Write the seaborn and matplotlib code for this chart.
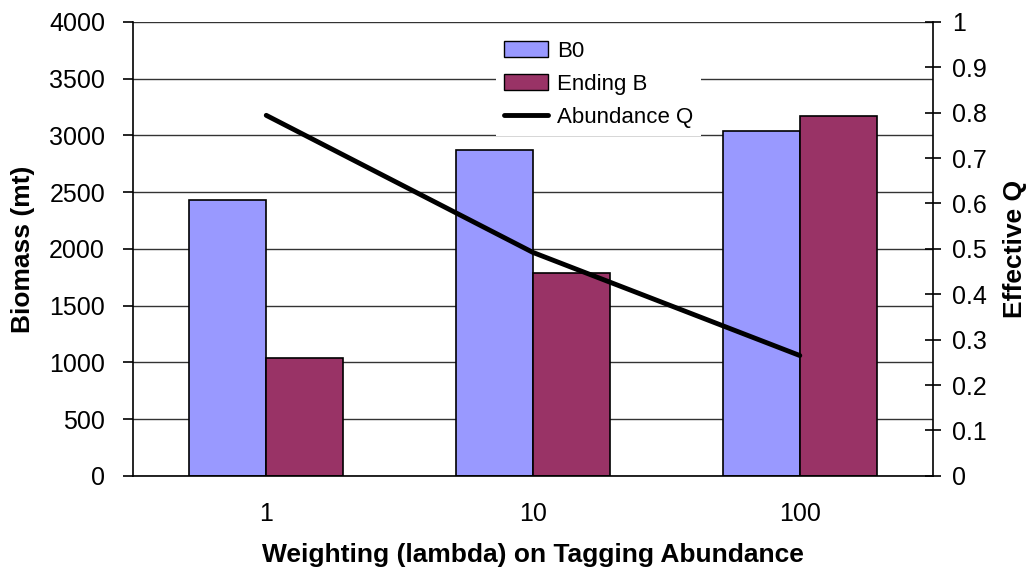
import matplotlib
matplotlib.use("Agg")
import matplotlib.pyplot as plt
import seaborn as sns
import pandas as pd
import numpy as np
from matplotlib.patches import Patch
from matplotlib.lines import Line2D

#Data
weights = ['1', '10', '100']
b0 = [2430, 2870, 3040]
ending_b = [1040, 1790, 3170]
abundance_q = [0.794, 0.492, 0.265]

df = pd.DataFrame({
    "Weight": weights * 2,
    "Biomass": b0 + ending_b,
    "Series": ["B0"] * 3 + ["Ending B"] * 3
})

sns.set_style("white")
plt.rcParams['font.family'] = ['Liberation Sans', 'DejaVu Sans']
plt.rcParams['text.color'] = 'black'
plt.rcParams['axes.labelcolor'] = 'black'
plt.rcParams['xtick.color'] = 'black'
plt.rcParams['ytick.color'] = 'black'

fig = plt.figure(figsize=(10.3, 5.74), dpi=100)
ax = fig.add_axes([0.129, 0.171, 0.777, 0.791])

colors = {"B0": "#9999FF", "Ending B": "#993366"}
sns.barplot(data=df, x="Weight", y="Biomass", hue="Series", palette=colors,
            width=0.577, gap=0, edgecolor="black", linewidth=1.2, ax=ax,
            legend=False, saturation=1)

ax.set_xlim(-0.5, 2.5)
ax.set_ylim(0, 4000)
ax.set_yticks(np.arange(0, 4001, 500))
ax.yaxis.grid(True, color="0.2", linewidth=1)
ax.set_axisbelow(True)
for s in ["top", "right"]:
    ax.spines[s].set_visible(False)
for s in ["left", "bottom"]:
    ax.spines[s].set_color("black")
    ax.spines[s].set_linewidth(1.2)

ax.set_xticks([0, 1, 2])
ax.set_xticklabels(weights)
ax.set_xticks([-0.5, 0.5, 1.5, 2.5], minor=True)
ax.tick_params(axis="x", which="major", length=0, pad=19, labelsize=18)
ax.tick_params(axis="x", which="minor", length=7, width=1.2, color="black", direction="out")
ax.tick_params(axis="y", length=7, width=1.2, color="black", direction="out", pad=13, labelsize=18, left=True)

ax.set_xlabel("Weighting (lambda) on Tagging Abundance", fontsize=19, fontweight="bold", labelpad=12)
ax.set_ylabel("Biomass (mt)", fontsize=19, fontweight="bold", labelpad=10)

ax2 = ax.twinx()
sns.lineplot(x=np.arange(len(weights)), y=abundance_q, color="black", linewidth=3.5, ax=ax2)
ax2.set_ylim(0, 1)
ax2.set_yticks(np.arange(0, 1.01, 0.1))
ax2.set_yticklabels(["0", "0.1", "0.2", "0.3", "0.4", "0.5", "0.6", "0.7", "0.8", "0.9", "1"])
ax2.tick_params(axis="y", length=11, width=1.2, color="black", direction="inout", pad=8, labelsize=18, right=True)
for s in ["top", "left", "bottom"]:
    ax2.spines[s].set_visible(False)
ax2.spines["right"].set_color("black")
ax2.spines["right"].set_linewidth(1.2)
ax2.set_ylabel("Effective Q", fontsize=19, fontweight="bold", labelpad=12)

handles = [Patch(facecolor=colors["B0"], edgecolor="black", label="B0"),
           Patch(facecolor=colors["Ending B"], edgecolor="black", label="Ending B"),
           Line2D([], [], color="black", linewidth=3.5, label="Abundance Q")]
leg = ax2.legend(handles=handles, loc="upper left", bbox_to_anchor=(0.44, 1.0),
                 fontsize=16, frameon=True, facecolor="white", edgecolor="none",
                 framealpha=1, handlelength=2.0, handletextpad=0.4, labelspacing=0.55,
                 borderpad=0.35, fancybox=False)

plt.savefig("out.png", dpi=100)
